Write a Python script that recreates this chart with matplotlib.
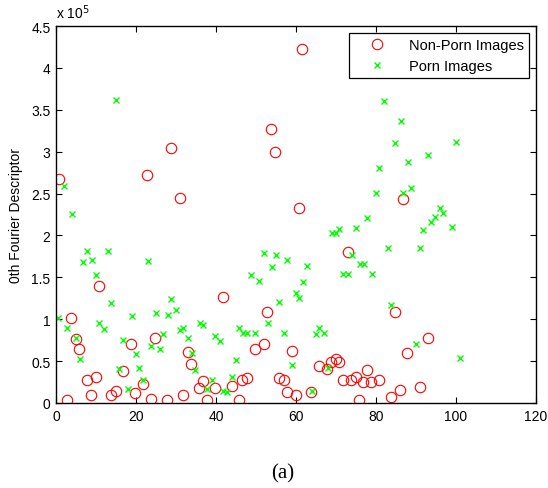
import matplotlib
matplotlib.use("Agg")
import matplotlib.pyplot as plt
from matplotlib.ticker import FuncFormatter, MultipleLocator

# Non-porn images (x index, 0th Fourier descriptor in units of 1e5)
nonporn_x = [0.75, 2.7, 3.75, 4.9, 5.75, 7.7, 8.8, 10, 10.75, 13.7, 14.9, 16.75, 18.7, 19.8,
             21.75, 22.8, 23.75, 24.8, 27.8, 28.7, 30.9, 31.75, 32.9, 33.7, 35.8, 36.75, 37.8,
             39.75, 41.7, 43.9, 45.8, 46.6, 47.8, 49.75, 52, 52.75, 53.8, 54.75, 55.7, 56.9,
             57.75, 58.9, 59.9, 60.7, 61.6, 63.75, 65.75, 67.75, 68.75, 69.9, 70.8, 71.8, 72.9,
             73.75, 75, 75.75, 76.8, 77.8, 78.75, 80.7, 83.75, 84.8, 85.9, 86.8, 87.8, 91, 92.9]
nonporn_y = [2.67, 0.03, 1.01, 0.76, 0.65, 0.27, 0.09, 0.31, 1.40, 0.10, 0.14, 0.38, 0.70, 0.12,
             0.23, 2.72, 0.05, 0.77, 0.03, 3.04, 2.45, 0.10, 0.61, 0.46, 0.18, 0.26, 0.03,
             0.18, 1.26, 0.20, 0.03, 0.28, 0.30, 0.65, 0.71, 1.09, 3.27, 3.00, 0.30, 0.28,
             0.13, 0.62, 0.10, 2.33, 4.22, 0.13, 0.44, 0.40, 0.49, 0.53, 0.49, 0.27, 1.80,
             0.28, 0.31, 0.04, 0.25, 0.39, 0.25, 0.28, 0.07, 1.09, 0.16, 2.43, 0.60, 0.19, 0.78]

# Porn images
porn_x = [0.6, 2, 2.8, 3.9, 5, 6, 6.8, 7.75, 8.9, 10, 10.8, 12, 13.1, 13.75, 15, 15.75, 16.8,
          17.9, 18.9, 19.9, 20.7, 21.7, 22.9, 23.75, 24.9, 26, 26.8, 28, 28.75, 29.9, 31, 31.8,
          32.9, 33.9, 34.75, 36, 36.8, 37.8, 38.9, 39.75, 41, 41.7, 42.8, 43.9, 44.9, 45.8,
          46.8, 47.8, 48.75, 49.75, 50.8, 52, 52.9, 53.9, 54.9, 55.8, 57, 57.8, 58.9, 60, 60.8,
          61.8, 62.8, 63.9, 65, 65.75, 66.9, 68, 68.9, 70, 70.8, 71.8, 73.1, 73.9, 75, 76, 77,
          77.8, 79, 79.9, 80.75, 81.9, 82.9, 83.75, 84.8, 86.2, 86.8, 87.9, 88.8, 89.9, 91,
          91.8, 93, 93.75, 94.75, 96, 96.8, 99, 99.9, 101.1]
porn_y = [1.02, 2.59, 0.90, 2.26, 0.77, 0.53, 1.68, 1.82, 1.71, 1.53, 0.96, 0.88, 1.82, 1.19,
          3.62, 0.41, 0.75, 0.17, 1.04, 0.59, 0.42, 0.28, 1.70, 0.68, 1.07, 0.64, 0.82, 1.05,
          1.24, 1.11, 0.87, 0.90, 0.78, 0.60, 0.39, 0.95, 0.93, 0.17, 0.27, 0.80, 0.74, 0.14,
          0.13, 0.31, 0.51, 0.90, 0.84, 0.83, 1.53, 0.84, 1.46, 1.79, 0.95, 1.62, 1.77, 1.21,
          0.83, 1.71, 0.45, 1.31, 1.25, 1.45, 1.63, 0.14, 0.82, 0.90, 0.83, 0.42, 2.03, 2.03,
          2.08, 1.54, 1.54, 1.77, 2.09, 1.66, 1.66, 2.21, 1.54, 2.51, 2.81, 3.61, 1.85, 1.17,
          3.10, 3.37, 2.51, 2.88, 2.57, 0.71, 1.85, 2.06, 2.96, 2.16, 2.22, 2.33, 2.27, 2.10,
          3.12, 0.54]

series_labels = ["Non-Porn Images", "Porn Images"]
y_label = "0th Fourier Descriptor"
caption = "(a)"

W, H = 548, 489
fig = plt.figure(figsize=(W / 100, H / 100), dpi=100)
fig.patch.set_facecolor("white")
ax = fig.add_axes([56 / W, (H - 404) / H, 480 / W, (404 - 27) / H])

sans = "Liberation Sans"
ax.plot(nonporn_x, nonporn_y, linestyle="none", marker="o", markersize=7.5,
        markerfacecolor="none", markeredgecolor="#ff0000", markeredgewidth=0.8,
        label=series_labels[0])
ax.plot(porn_x, porn_y, linestyle="none", marker="x", markersize=4,
        markeredgecolor="#00ff00", markeredgewidth=1.0, label=series_labels[1])

ax.set_xlim(0, 120)
ax.set_ylim(0, 4.5)
ax.xaxis.set_major_locator(MultipleLocator(20))
ax.yaxis.set_major_locator(MultipleLocator(0.5))
ax.yaxis.set_major_formatter(FuncFormatter(lambda v, p: f"{v:g}"))
ax.xaxis.set_major_formatter(FuncFormatter(lambda v, p: f"{v:g}"))
ax.tick_params(direction="in", length=4, width=0.8, top=True, right=True,
               labelsize=10, pad=4)
for lab in ax.get_xticklabels() + ax.get_yticklabels():
    lab.set_fontfamily(sans)
for s in ax.spines.values():
    s.set_linewidth(1.0)

ax.set_ylabel(y_label, fontsize=10, family=sans, labelpad=6)
ax.text(0.0, 1.012, r"x 10$^{5}$", transform=ax.transAxes, fontsize=10,
        family=sans, ha="left", va="bottom")

leg = ax.legend(loc="upper right", fancybox=False, framealpha=1, edgecolor="black",
                prop={"family": sans, "size": 10.5}, handlelength=3.2,
                handletextpad=0.6, borderpad=0.35, labelspacing=0.5,
                borderaxespad=0.45)
leg.get_frame().set_linewidth(0.9)

fig.text(283 / W, 1 - 474 / H, caption, fontsize=15, family="Liberation Serif",
         ha="center", va="center")

fig.savefig("out.png", dpi=100)
